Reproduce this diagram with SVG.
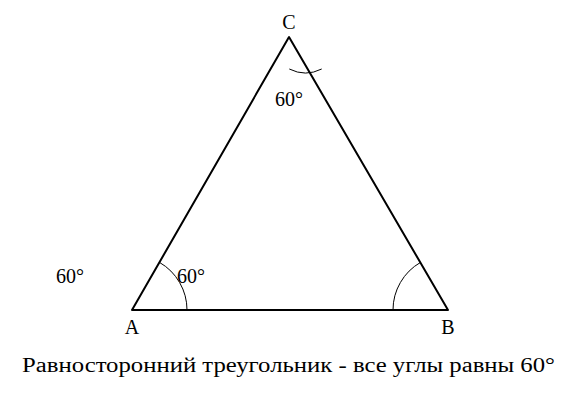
<svg xmlns="http://www.w3.org/2000/svg" width="581" height="400" viewBox="0 0 581 400">
<style>
.side{stroke:#000;stroke-width:2;fill:none;stroke-linecap:round;stroke-linejoin:round}
.arc{stroke:#000;stroke-width:1;fill:none}
</style>
<rect width="581" height="400" fill="#fff"/>
<g font-family="'Liberation Serif', 'DejaVu Serif', 'Times New Roman', Times, serif" font-size="20" fill="#000">
<g id="triangle">
<polygon class="side" points="132,310 448,310 289,37"/>
</g>
<g id="angleA">
<path class="arc" d="M187,310 A55,55 0 0,0 159.5,262.4"/>
<text x="177" y="283">60°</text>
</g>
<g id="angleB">
<path class="arc" d="M393,310 A55,55 0 0,1 420.5,262.4"/>
</g>
<g id="angleC">
<path class="arc" d="M289.3,69 A36,36 0 0,0 321.7,69"/>
<text x="275" y="106">60°</text>
</g>
<g id="labels">
<text x="132" y="334" text-anchor="middle">A</text>
<text x="448" y="334" text-anchor="middle">B</text>
<text x="289" y="29" text-anchor="middle">C</text>
<text x="56" y="283">60°</text>
</g>
<g id="caption">
<text x="22" y="372" textLength="533" lengthAdjust="spacingAndGlyphs">Равносторонний треугольник - все углы равны 60°</text>
</g>
</g>
</svg>
